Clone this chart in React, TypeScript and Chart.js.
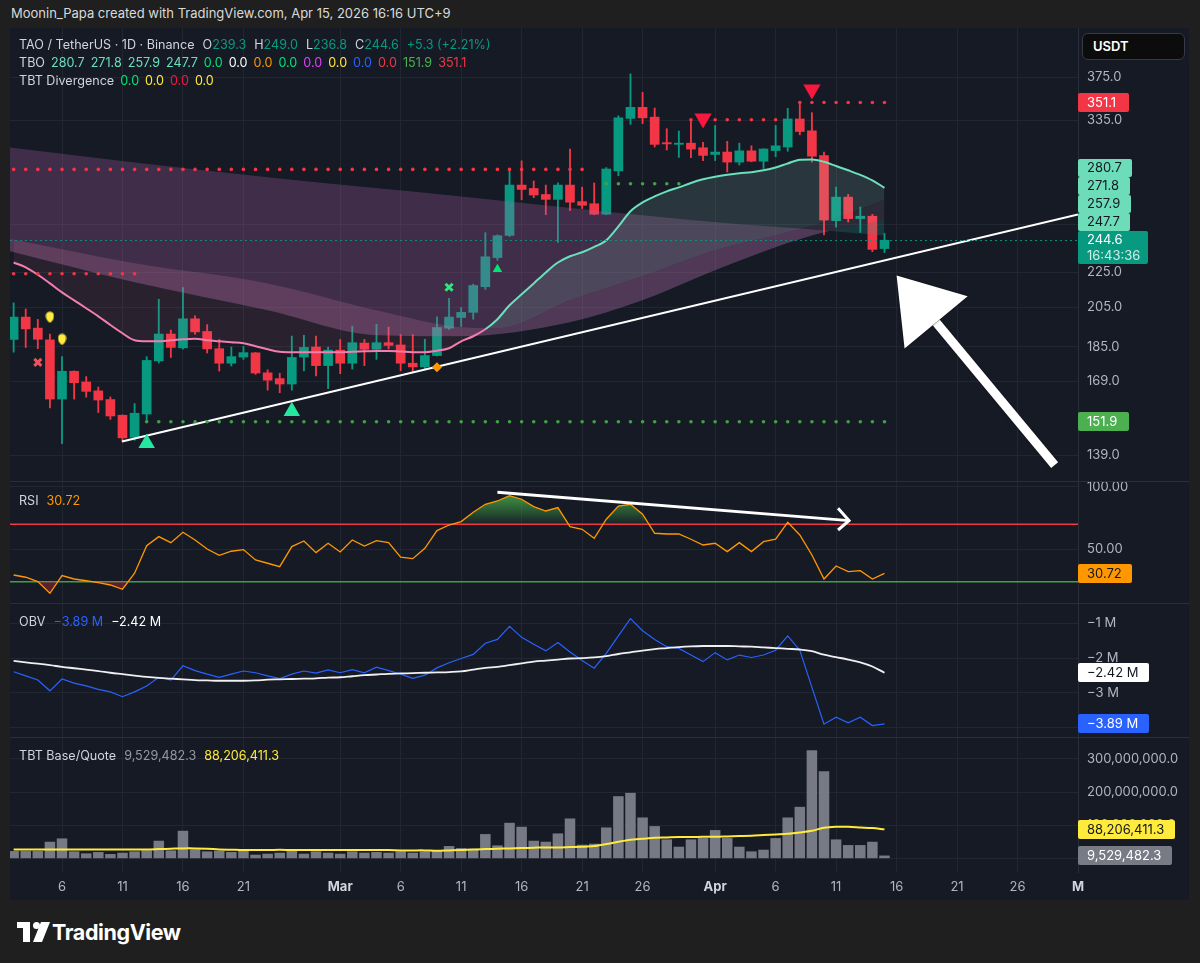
import React, { useEffect, useRef } from 'react';
import { Chart, registerables } from 'chart.js';

Chart.register(...registerables);

// ---------------- DATA ----------------
const SYMBOL = 'TAO / TetherUS · 1D · Binance';
const ATTRIBUTION = 'Moonin_Papa created with TradingView.com, Apr 15, 2026 16:16 UTC+9';
const TIMER = '16:43:36';

// x = day index, 0 = Feb 2
const X_TICKS = [4, 9, 14, 19, 27, 32, 37, 42, 47, 52, 58, 63, 68, 73, 78, 83, 88];
const X_TICK_LABELS = ['6', '11', '16', '21', 'Mar', '6', '11', '16', '21', '26', 'Apr', '6', '11', '16', '21', '26', 'M'];
const MONTH_LABELS = ['Mar', 'Apr', 'M'];

const OPEN = [188.5, 199.9, 194.2, 188.3, 161.2, 173.4, 168.6, 164.7, 161.0, 154.5,
  145.8, 155.0, 178.2, 191.2, 184.4, 199.0, 192.5, 184.0, 177.1, 180.0,
  182.0, 172.7, 170.1, 167.7, 180.0, 184.8, 176.0, 183.3, 177.1, 186.7,
  183.7, 186.9, 185.8, 177.1, 175.4, 180.7, 194.2, 199.7, 202.4, 216.5,
  233.7, 247.7, 282.7, 280.2, 275.8, 272.3, 282.7, 270.7, 269.2, 261.9,
  293.4, 336.8, 346.7, 337.9, 316.0, 314.6, 315.6, 311.8, 306.4, 308.3,
  300.3, 309.3, 301.0, 309.5, 312.4, 336.3, 326.0, 305.5, 257.5, 273.9,
  258.9, 260.5, 239.3];
const HIGH = [207.5, 204.2, 198.7, 191.2, 180.2, 173.6, 171.0, 166.4, 162.1, 154.6,
  159.3, 180.2, 209.5, 193.2, 216.0, 200.6, 196.0, 188.5, 184.8, 185.1,
  182.2, 174.1, 172.5, 190.2, 190.6, 190.2, 184.8, 188.5, 195.2, 188.5,
  196.2, 194.7, 190.9, 190.9, 188.6, 200.0, 210.0, 205.0, 218.0, 249.5,
  248.1, 294.6, 301.3, 285.8, 282.7, 284.3, 310.8, 281.2, 284.3, 296.0,
  339.1, 378.6, 360.6, 346.1, 327.8, 325.8, 335.5, 316.3, 330.6, 317.1,
  315.6, 313.4, 311.0, 330.6, 345.8, 352.2, 341.9, 308.3, 281.2, 275.9,
  266.9, 261.8, 249.0];
const LOW = [182.3, 184.6, 184.0, 157.5, 143.4, 161.2, 162.0, 155.6, 152.8, 144.1,
  144.7, 152.2, 177.2, 179.8, 183.8, 191.1, 181.9, 173.5, 175.8, 178.9,
  172.0, 165.0, 163.9, 165.0, 173.6, 171.3, 165.7, 172.3, 174.4, 176.0,
  178.9, 183.9, 173.6, 172.8, 174.3, 180.5, 193.5, 195.0, 198.8, 215.0,
  232.0, 247.0, 272.0, 273.5, 261.6, 243.2, 264.3, 265.8, 261.5, 261.5,
  289.7, 331.5, 332.2, 312.4, 310.0, 304.0, 303.8, 301.5, 301.5, 292.6,
  298.0, 300.5, 295.3, 304.6, 309.0, 322.6, 300.3, 248.1, 253.2, 256.6,
  249.6, 237.4, 236.8];
const CLOSE = [199.9, 193.8, 188.6, 161.2, 173.4, 168.3, 164.5, 160.8, 154.2, 145.6,
  155.3, 178.4, 191.2, 184.6, 199.0, 192.3, 183.9, 177.1, 180.2, 182.1,
  172.6, 169.4, 167.7, 179.8, 184.6, 176.0, 183.3, 177.1, 186.9, 183.7,
  186.9, 185.6, 177.1, 175.4, 180.7, 194.5, 199.9, 202.4, 217.2, 234.2,
  247.5, 282.7, 279.5, 275.4, 272.3, 282.7, 270.3, 268.1, 261.9, 294.9,
  337.3, 346.7, 337.3, 314.6, 315.0, 315.6, 310.7, 305.6, 308.3, 300.3,
  309.3, 301.0, 310.8, 313.4, 336.3, 325.4, 305.0, 257.9, 273.9, 258.9,
  260.5, 238.8, 244.6];

const TBO_FAST = [230.7, 227.8, 223.4, 218.4, 213.3, 208.9, 204.6, 200.3, 195.8, 191.6,
  188.1, 187.6, 187.6, 188.1, 188.6, 188.9, 188.1, 187.6, 187.1, 186.6,
  185.2, 183.7, 182.5, 182.3, 182.3, 182.3, 182.3, 182.3, 182.5, 182.7,
  182.9, 182.9, 182.6, 182.3, 182.3, 183.0, 184.2, 187.6, 190.1, 193.6,
  198.8, 206.2, 212.2, 218.4, 224.8, 230.7, 234.5, 237.0, 240.4, 244.5,
  253.6, 263.9, 270.1, 274.4, 278.1, 281.0, 284.3, 287.0, 288.9, 290.4,
  291.6, 292.4, 293.9, 296.1, 299.2, 302.2, 302.4, 300.5, 297.2, 293.9,
  290.4, 286.2, 280.7];
const TBO_BULL_FROM = 39;
const TBO_MED_IDX = [-0.3, 10, 21, 30, 37, 40, 46, 52, 58, 63, 67, 72];
const TBO_MED = [245.5, 230.2, 218.4, 203.5, 194.6, 194.1, 208.9, 222.5, 238.2, 247.8, 256.3, 271.8];
const TBO_SLOW_IDX = [-0.3, 10, 21, 30, 37, 46, 52, 58, 63, 67, 72];
const TBO_SLOW = [237.6, 219.0, 203.5, 190.6, 190.1, 197.2, 208.9, 226.0, 240.1, 249.7, 257.9];
const TBO_SLOWEST_IDX = [-0.3, 10, 21, 37, 52, 60, 67, 72];
const TBO_SLOWEST = [312.0, 300.0, 288.5, 274.4, 261.1, 255.0, 251.0, 247.7];

const SELL_LEVEL = 351.1;
const BUY_LEVEL = 151.9;
const RED_LEVELS = [
  { from: 0, to: 47, price: 294.6 },
  { from: 0, to: 10, price: 224.0 },
  { from: 56, to: 63, price: 335.6 },
  { from: 65, to: 72, price: SELL_LEVEL },
];
const GREEN_LEVELS = [
  { from: 11, to: 72, price: BUY_LEVEL },
  { from: 49, to: 55, price: 283.7 },
];

const TREND = [{ x: 8.96, y: 144.2 }, { x: 88, y: 261.7 }];
const ARROW_TAIL = [86.07, 135.5];
const ARROW_TIP = [73.0, 223.0];
const ARROW_WING_A = [73.66, 184.1];
const ARROW_WING_B = [78.88, 211.1];

const SIG_UP_BIG = [{ x: 11, y: 143.5 }, { x: 23, y: 156.1 }];
const SIG_UP_SMALL = [{ x: 40, y: 226.6 }];
const SIG_DOWN = [{ x: 57, y: 336.8 }, { x: 66, y: 363.4 }];
const SIG_X_RED = [{ x: 2, y: 177.5 }];
const SIG_X_GREEN = [{ x: 36, y: 216.2 }];
const SIG_DROP = [{ x: 3, y: 199.8 }, { x: 4, y: 188.5 }];
const SIG_DIAMOND = [{ x: 35, y: 175.2 }];

const MAIN_Y_TICKS = [375, 335, 255, 225, 205, 185, 169, 139];

const RSI = [29.4, 27.6, 24.1, 14.8, 28.9, 26.2, 24.8, 23.3, 21.4, 18.0,
  30.8, 52.9, 60.1, 55.3, 63.6, 57.4, 50.2, 45.2, 48.4, 49.7,
  41.4, 38.8, 36.1, 52.1, 56.6, 47.3, 54.8, 47.8, 57.4, 52.6,
  56.9, 55.3, 43.6, 42.5, 50.8, 64.9, 69.4, 72.1, 79.6, 86.0,
  88.6, 92.9, 90.0, 84.1, 80.6, 83.3, 68.1, 66.0, 58.8, 74.0,
  84.6, 86.0, 78.0, 62.8, 62.2, 62.2, 58.0, 53.4, 54.8, 48.1,
  55.3, 48.1, 56.1, 58.0, 71.6, 61.4, 45.4, 26.2, 36.6, 32.1,
  32.9, 26.2, 30.72];
const RSI_UPPER = 70;
const RSI_LOWER = 24;
const RSI_TICKS = [100, 50];
const RSI_ARROW = [{ x: 40, y: 95.6 }, { x: 69.07, y: 72.9 }];
const RSI_ARROW_HEAD = [{ x: 68.16, y: 82.8 }, { x: 69.07, y: 72.9 }, { x: 68.16, y: 65.4 }];

const OBV = [-2.39, -2.51, -2.63, -2.94, -2.60, -2.72, -2.80, -2.90, -2.97, -3.11,
  -2.97, -2.80, -2.55, -2.63, -2.22, -2.36, -2.46, -2.55, -2.46, -2.37,
  -2.42, -2.51, -2.59, -2.46, -2.37, -2.43, -2.34, -2.42, -2.33, -2.42,
  -2.26, -2.36, -2.46, -2.58, -2.49, -2.28, -2.13, -2.01, -1.89, -1.57,
  -1.46, -1.08, -1.40, -1.60, -1.79, -1.55, -1.82, -2.07, -2.29, -1.86,
  -1.36, -0.86, -1.21, -1.46, -1.67, -1.72, -1.91, -2.10, -1.84, -2.05,
  -1.91, -1.98, -1.91, -1.77, -1.36, -1.77, -2.84, -3.90, -3.70, -3.86,
  -3.70, -3.94, -3.89];
const OBV_MA = [-2.08, -2.12, -2.16, -2.20, -2.25, -2.29, -2.33, -2.37, -2.42, -2.46,
  -2.50, -2.54, -2.57, -2.59, -2.61, -2.63, -2.64, -2.65, -2.65, -2.65,
  -2.64, -2.62, -2.61, -2.60, -2.59, -2.58, -2.56, -2.55, -2.52, -2.49,
  -2.47, -2.45, -2.44, -2.43, -2.42, -2.41, -2.40, -2.38, -2.33, -2.28,
  -2.25, -2.20, -2.15, -2.10, -2.07, -2.04, -2.01, -2.00, -1.98, -1.94,
  -1.88, -1.83, -1.78, -1.74, -1.71, -1.68, -1.66, -1.65, -1.65, -1.65,
  -1.66, -1.67, -1.69, -1.71, -1.73, -1.75, -1.80, -1.90, -1.97, -2.04,
  -2.12, -2.24, -2.42];
const OBV_TICKS = [-1, -2, -3, -4];

// millions
const VOL = [23, 23, 23, 51, 61, 22, 16, 20, 14, 18,
  22, 25, 54, 25, 84, 28, 22, 24, 20, 28,
  12, 15, 18, 28, 15, 22, 18, 15, 22, 18,
  20, 18, 22, 18, 22, 24, 38, 32, 30, 74,
  40, 108, 96, 54, 51, 76, 121, 42, 45, 94,
  188, 198, 124, 98, 58, 36, 58, 62, 86, 62,
  36, 22, 27, 62, 124, 156, 326, 263, 58, 41,
  41, 51, 9.5294823];
const VOL_MA = [28, 28, 28, 28, 28, 28, 28, 28, 28, 28,
  28, 28, 29, 30, 31, 31, 30, 28, 27, 26,
  26, 26, 27, 26, 26, 26, 26, 26, 26, 26,
  26, 26, 25, 25, 25, 24, 25, 26, 28, 29,
  30, 31, 32, 33, 34, 34, 35, 36, 38, 44,
  51, 57, 60, 63, 64, 65, 65, 66, 66, 67,
  68, 69, 71, 73, 75, 79, 84, 93, 96, 96,
  94, 92, 88.2064113];
const VOL_TICKS = [0, 100, 200, 300];

// ---------------- STYLE ----------------
const FONT = 'Inter, "Noto Sans", "Liberation Sans", sans-serif';
const BG_OUTER = '#1f1f1f';
const BG_PANEL = '#161a25';
const GRID = '#222631';
const SEP = '#2a2e39';
const AXIS_TXT = '#b2b5be';
const LEG_TXT = '#d1d4dc';
const UP = '#089981';
const DOWN = '#f23645';
const PINK = '#f27eb0';
const MINT = '#6ce0bd';
const MINT_BOX = '#6cdcb9';

const X_MIN = -0.3;
const X_MAX = 88;
const AXIS_W = 111;

const last = (a: number[]) => a[a.length - 1];
const idxPts = (vals: number[]) => vals.map((v, i) => ({ x: i, y: v }));
const sparse = (idx: number[], vals: number[]) => idx.map((x, k) => ({ x, y: vals[k] }));
const levelPts = (levels: any[]) =>
  levels.flatMap((l) => {
    const pts: any[] = [];
    for (let i = l.from; i <= l.to; i++) pts.push({ x: i, y: l.price });
    return pts;
  });
const fmtM = (v: number) => '\u2212' + Math.abs(v).toFixed(2) + ' M';
const fmtVol = (v: number) =>
  (v * 1e6).toLocaleString('en-US', { minimumFractionDigits: 1, maximumFractionDigits: 1 });

function makeDrop(color: string) {
  const c = document.createElement('canvas');
  c.width = 9;
  c.height = 12;
  const g = c.getContext('2d')!;
  g.fillStyle = color;
  g.beginPath();
  g.arc(4.5, 4.5, 4, Math.PI, 0);
  g.quadraticCurveTo(8.5, 9, 4.5, 11.5);
  g.quadraticCurveTo(0.5, 9, 0.5, 4.5);
  g.fill();
  return c;
}

function drawBox(ctx: any, left: number, cy: number, text: string, bg: string, fg: string, minW = 0, h = 19) {
  ctx.font = `13px ${FONT}`;
  const w = Math.max(minW, Math.ceil(ctx.measureText(text).width) + 19);
  const top = Math.round(cy - h / 2);
  ctx.fillStyle = bg;
  ctx.beginPath();
  ctx.roundRect(left, top, w, h, 2);
  ctx.fill();
  ctx.fillStyle = fg;
  ctx.textAlign = 'left';
  ctx.textBaseline = 'middle';
  ctx.fillText(text, left + 9, top + h / 2 + 0.5);
}

function xScale(showLabels: boolean) {
  return {
    type: 'linear',
    min: X_MIN,
    max: X_MAX,
    bounds: 'data',
    offset: false,
    afterBuildTicks: (s: any) => {
      s.ticks = X_TICKS.map((v) => ({ value: v }));
    },
    afterFit: (s: any) => {
      s.height = showLabels ? 28 : 0;
      s.paddingLeft = 0;
      s.paddingRight = 0;
      s.paddingTop = 0;
      s.paddingBottom = 0;
    },
    grid: { color: GRID, drawTicks: false, offset: false },
    border: { display: false },
    ticks: {
      display: showLabels,
      autoSkip: false,
      maxRotation: 0,
      padding: 7,
      callback: (_v: any, i: number) => X_TICK_LABELS[i],
      color: (c: any) => (MONTH_LABELS.includes(X_TICK_LABELS[c.index]) ? LEG_TXT : AXIS_TXT),
      font: (c: any) => ({ size: 13, family: FONT, weight: MONTH_LABELS.includes(X_TICK_LABELS[c.index]) ? 'bold' : 'normal' }),
    },
  };
}

function yScale(extra: any, ticks: number[], fmt: (v: number) => string) {
  return {
    position: 'right',
    bounds: 'data',
    offset: false,
    ...extra,
    afterBuildTicks: (s: any) => {
      s.ticks = ticks.map((v) => ({ value: v }));
    },
    afterFit: (s: any) => {
      s.width = AXIS_W;
      s.paddingTop = 0;
      s.paddingBottom = 0;
      s.paddingLeft = 0;
      s.paddingRight = 0;
    },
    grid: { color: GRID, drawTicks: false },
    border: { display: true, color: SEP },
    ticks: { padding: 9, color: AXIS_TXT, autoSkip: false, font: { size: 13, family: FONT }, callback: (v: any) => fmt(Number(v)) },
  };
}

function baseOptions(x: any, y: any) {
  return {
    animation: false,
    responsive: false,
    devicePixelRatio: 1,
    events: [],
    layout: { padding: 0, autoPadding: false },
    plugins: { legend: { display: false }, tooltip: { enabled: false } },
    scales: { x, y },
  };
}

const lineDs = (data: any[], color: string, width: number, order: number, extra: any = {}) => ({
  type: 'line',
  data,
  borderColor: color,
  borderWidth: width,
  pointRadius: 0,
  fill: false,
  order,
  ...extra,
});

const markerDs = (data: any[], style: any, radius: number, color: string, extra: any = {}) => ({
  type: 'line',
  data,
  showLine: false,
  pointStyle: style,
  pointRadius: radius,
  pointBackgroundColor: color,
  pointBorderColor: color,
  pointBorderWidth: 0,
  order: 1,
  ...extra,
});

function mainConfig(): any {
  const colors = OPEN.map((o, i) => (CLOSE[i] >= o ? UP : DOWN));
  const datasets: any[] = [
    // 0 slowest line
    lineDs(sparse(TBO_SLOWEST_IDX, TBO_SLOWEST), 'transparent', 0, 10, {
      cubicInterpolationMode: 'monotone',
      fill: { target: 1, above: 'rgba(176,100,170,0.27)', below: 'rgba(38,166,154,0.22)' },
    }),
    // 1 slow line
    lineDs(sparse(TBO_SLOW_IDX, TBO_SLOW), 'transparent', 0, 10, { cubicInterpolationMode: 'monotone' }),
    // 2 medium line
    lineDs(sparse(TBO_MED_IDX, TBO_MED), 'transparent', 0, 10, {
      cubicInterpolationMode: 'monotone',
      fill: { target: 1, above: 'rgba(215,185,220,0.11)', below: 'rgba(215,185,220,0.11)' },
    }),
    // 3 fast line
    lineDs(idxPts(TBO_FAST), PINK, 2, 9, {
      cubicInterpolationMode: 'monotone',
      segment: { borderColor: (c: any) => (c.p0DataIndex >= TBO_BULL_FROM ? MINT : PINK) },
      fill: { target: 2, above: 'rgba(150,205,190,0.16)', below: 'rgba(240,110,160,0.09)' },
    }),
    // 4 trend line
    lineDs(TREND, '#ffffff', 2, 8),
    // candles: wicks & bodies
    {
      type: 'bar',
      data: OPEN.map((_o, i) => ({ x: i, y: [LOW[i], HIGH[i]] })),
      backgroundColor: colors,
      grouped: false,
      maxBarThickness: 1.2,
      categoryPercentage: 1,
      barPercentage: 1,
      order: 21,
    },
    {
      type: 'bar',
      data: OPEN.map((o, i) => ({ x: i, y: [o, CLOSE[i]] })),
      backgroundColor: colors,
      grouped: false,
      maxBarThickness: 9,
      categoryPercentage: 1,
      barPercentage: 1,
      order: 20,
    },
    markerDs(levelPts(RED_LEVELS), 'circle', 1.8, '#f23645', { order: 7 }),
    markerDs(levelPts(GREEN_LEVELS), 'circle', 1.8, '#43a047', { order: 7 }),
    markerDs(SIG_UP_BIG, 'triangle', 9.5, '#26e7a0'),
    markerDs(SIG_UP_SMALL, 'triangle', 5.5, '#00e676'),
    markerDs(SIG_DOWN, 'triangle', 10, '#f7173f', { pointRotation: 180 }),
    markerDs(SIG_X_RED, 'crossRot', 5, '#f0515c', { pointBorderWidth: 3 }),
    markerDs(SIG_X_GREEN, 'crossRot', 5, '#2ee67a', { pointBorderWidth: 3 }),
    markerDs(SIG_DROP, makeDrop('#ffeb3b'), 5, '#ffeb3b'),
    markerDs(SIG_DIAMOND, 'rectRot', 5, '#ff9800'),
  ];

  const overlay = {
    id: 'mainOverlay',
    afterDatasetsDraw(chart: any) {
      const { ctx, chartArea, scales } = chart;
      const x = scales.x;
      const y = scales.y;
      ctx.save();
      ctx.beginPath();
      ctx.rect(chartArea.left, chartArea.top, chartArea.width, chartArea.height);
      ctx.clip();
      const py = Math.round(y.getPixelForValue(last(CLOSE))) + 0.5;
      ctx.setLineDash([2, 3]);
      ctx.strokeStyle = 'rgba(8,153,129,0.9)';
      ctx.lineWidth = 1;
      ctx.beginPath();
      ctx.moveTo(chartArea.left, py);
      ctx.lineTo(chartArea.right, py);
      ctx.stroke();
      ctx.setLineDash([]);
      const P = (p: number[]) => [x.getPixelForValue(p[0]), y.getPixelForValue(p[1])];
      const tail = P(ARROW_TAIL);
      const tip = P(ARROW_TIP);
      const wa = P(ARROW_WING_A);
      const wb = P(ARROW_WING_B);
      const mid = [(wa[0] + wb[0]) / 2, (wa[1] + wb[1]) / 2];
      ctx.shadowColor = 'rgba(0,0,0,0.6)';
      ctx.shadowBlur = 2;
      ctx.strokeStyle = '#ffffff';
      ctx.fillStyle = '#ffffff';
      ctx.lineWidth = 9;
      ctx.lineCap = 'butt';
      ctx.beginPath();
      ctx.moveTo(tail[0], tail[1]);
      ctx.lineTo(mid[0], mid[1]);
      ctx.stroke();
      ctx.beginPath();
      ctx.moveTo(tip[0], tip[1]);
      ctx.lineTo(wa[0], wa[1]);
      ctx.lineTo(wb[0], wb[1]);
      ctx.closePath();
      ctx.fill();
      ctx.restore();
    },
    afterDraw(chart: any) {
      const { ctx, chartArea, scales } = chart;
      const y = scales.y;
      const left = chartArea.right;
      ctx.save();
      drawBox(ctx, left, y.getPixelForValue(SELL_LEVEL), SELL_LEVEL.toFixed(1), '#f23645', '#ffffff', 51);
      drawBox(ctx, left, y.getPixelForValue(BUY_LEVEL), BUY_LEVEL.toFixed(1), '#4caf50', '#ffffff', 51);
      const py = y.getPixelForValue(last(CLOSE));
      const curTop = Math.round(py - 9.5);
      const vals = [last(TBO_SLOWEST), last(TBO_SLOW), last(TBO_MED), last(TBO_FAST)].sort((a, b) => a - b);
      let limit = curTop;
      for (const v of vals) {
        const cy = Math.min(y.getPixelForValue(v), limit - 9);
        drawBox(ctx, left, cy, v.toFixed(1), MINT_BOX, '#131722', 51, 18);
        limit = cy - 9;
      }
      ctx.fillStyle = UP;
      ctx.beginPath();
      ctx.roundRect(left, curTop, 70, 33, 2);
      ctx.fill();
      ctx.font = `13px ${FONT}`;
      ctx.textAlign = 'left';
      ctx.textBaseline = 'middle';
      ctx.fillStyle = '#ffffff';
      ctx.fillText(last(CLOSE).toFixed(1), left + 9, curTop + 9.5);
      ctx.fillStyle = 'rgba(255,255,255,0.82)';
      ctx.fillText(TIMER, left + 9, curTop + 25);
      ctx.restore();
    },
  };

  return {
    type: 'line',
    data: { datasets },
    options: baseOptions(
      xScale(false),
      yScale({ type: 'logarithmic', min: 130, max: 427 }, MAIN_Y_TICKS, (v) => v.toFixed(1)),
    ),
    plugins: [overlay],
  };
}

function rsiConfig(): any {
  const datasets: any[] = [
    lineDs(idxPts(RSI), '#ff9800', 1.3, 2, {
      fill: { target: { value: RSI_UPPER }, above: 'rgba(67,160,71,0.5)', below: 'rgba(0,0,0,0)' },
    }),
    lineDs(idxPts(RSI), 'transparent', 0, 3, {
      fill: { target: { value: RSI_LOWER }, above: 'rgba(0,0,0,0)', below: 'rgba(200,40,60,0.38)' },
    }),
    lineDs([{ x: X_MIN, y: RSI_UPPER }, { x: X_MAX, y: RSI_UPPER }], '#f23645', 1.5, 4),
    lineDs([{ x: X_MIN, y: RSI_LOWER }, { x: X_MAX, y: RSI_LOWER }], '#43a047', 1.5, 4),
    lineDs(RSI_ARROW, '#ffffff', 3, 0),
    lineDs(RSI_ARROW_HEAD, '#ffffff', 3, 0, { borderJoinStyle: 'miter' }),
  ];
  const overlay = {
    id: 'rsiOverlay',
    afterDraw(chart: any) {
      const { ctx, chartArea, scales } = chart;
      ctx.save();
      drawBox(ctx, chartArea.right, scales.y.getPixelForValue(last(RSI)), last(RSI).toFixed(2), '#ff9800', '#131722', 51);
      ctx.restore();
    },
  };
  return {
    type: 'line',
    data: { datasets },
    options: baseOptions(xScale(false), yScale({ type: 'linear', min: 7, max: 103.8 }, RSI_TICKS, (v) => v.toFixed(2))),
    plugins: [overlay],
  };
}

function obvConfig(): any {
  const datasets: any[] = [
    lineDs(idxPts(OBV_MA), '#f0f0f0', 1.8, 2, { tension: 0.4 }),
    lineDs(idxPts(OBV), '#2962ff', 1.2, 3),
  ];
  const overlay = {
    id: 'obvOverlay',
    afterDraw(chart: any) {
      const { ctx, chartArea, scales } = chart;
      ctx.save();
      drawBox(ctx, chartArea.right, scales.y.getPixelForValue(last(OBV_MA)), fmtM(last(OBV_MA)), '#ffffff', '#131722');
      drawBox(ctx, chartArea.right, scales.y.getPixelForValue(last(OBV)), fmtM(last(OBV)), '#2962ff', '#ffffff');
      ctx.restore();
    },
  };
  return {
    type: 'line',
    data: { datasets },
    options: baseOptions(
      xScale(false),
      yScale({ type: 'linear', min: -4.27, max: -0.44 }, OBV_TICKS, (v) => '\u2212' + Math.abs(v) + ' M'),
    ),
    plugins: [overlay],
  };
}

function volConfig(): any {
  const datasets: any[] = [
    lineDs(idxPts(VOL_MA), '#ffeb3b', 2, 1, { tension: 0.3 }),
    {
      type: 'bar',
      data: idxPts(VOL),
      backgroundColor: 'rgba(124,127,138,0.95)',
      categoryPercentage: 1,
      barPercentage: 0.87,
      order: 5,
    },
  ];
  const overlay = {
    id: 'volOverlay',
    afterDraw(chart: any) {
      const { ctx, chartArea, scales } = chart;
      ctx.save();
      drawBox(ctx, chartArea.right, scales.y.getPixelForValue(last(VOL_MA)), fmtVol(last(VOL_MA)), '#ffeb3b', '#131722');
      drawBox(ctx, chartArea.right, scales.y.getPixelForValue(last(VOL)), fmtVol(last(VOL)), '#787b86', '#ffffff');
      ctx.restore();
    },
  };
  return {
    type: 'line',
    data: { datasets },
    options: baseOptions(xScale(true), yScale({ type: 'linear', min: -40, max: 363 }, VOL_TICKS, (v) => fmtVol(v))),
    plugins: [overlay],
  };
}

const Row = ({ top, children, gap = 8 }: any) => (
  <div
    style={{
      position: 'absolute',
      left: 19,
      top,
      height: 18,
      lineHeight: '18px',
      fontSize: 12.6,
      whiteSpace: 'nowrap',
      display: 'flex',
      gap,
      fontFamily: FONT,
      color: LEG_TXT,
    }}
  >
    {children}
  </div>
);

const C = ({ c, children }: any) => <span style={{ color: c }}>{children}</span>;

export default function App() {
  const mainRef = useRef<HTMLCanvasElement>(null);
  const rsiRef = useRef<HTMLCanvasElement>(null);
  const obvRef = useRef<HTMLCanvasElement>(null);
  const volRef = useRef<HTMLCanvasElement>(null);

  useEffect(() => {
    Chart.defaults.font.family = FONT;
    Chart.defaults.font.size = 13;
    Chart.defaults.color = AXIS_TXT;
    const charts: any[] = [];
    charts.push(new Chart(mainRef.current as any, mainConfig()));
    const rsi = new Chart(rsiRef.current as any, rsiConfig());
    const ys = rsi.scales.y;
    const grad = rsi.ctx.createLinearGradient(0, ys.getPixelForValue(93), 0, ys.getPixelForValue(RSI_UPPER));
    grad.addColorStop(0, 'rgba(67,160,71,0.9)');
    grad.addColorStop(1, 'rgba(67,160,71,0.06)');
    (rsi.data.datasets[0] as any).fill = { target: { value: RSI_UPPER }, above: grad, below: 'rgba(0,0,0,0)' };
    rsi.update('none');
    charts.push(rsi);
    charts.push(new Chart(obvRef.current as any, obvConfig()));
    charts.push(new Chart(volRef.current as any, volConfig()));
    return () => charts.forEach((c) => c.destroy());
  }, []);

  const o = last(OPEN);
  const h = last(HIGH);
  const l = last(LOW);
  const c = last(CLOSE);
  const chg = c - o;
  const pct = (chg / o) * 100;
  const canvasStyle = (top: number, height: number): any => ({ position: 'absolute', left: 10, top, width: 1179, height });

  return (
    <div style={{ position: 'fixed', left: 0, top: 0, width: 1200, height: 963, background: BG_OUTER, overflow: 'hidden', fontFamily: FONT }}>
      <div style={{ position: 'absolute', left: 11, top: 4, fontSize: 13, lineHeight: '18px', color: '#dadada', whiteSpace: 'nowrap' }}>{ATTRIBUTION}</div>
      <div style={{ position: 'absolute', left: 10, top: 28, width: 1179, height: 872, background: BG_PANEL }} />
      <canvas ref={mainRef} width={1179} height={453} style={canvasStyle(28, 453)} />
      <canvas ref={rsiRef} width={1179} height={121} style={canvasStyle(482, 121)} />
      <canvas ref={obvRef} width={1179} height={133} style={canvasStyle(604, 133)} />
      <canvas ref={volRef} width={1179} height={162} style={canvasStyle(738, 162)} />
      {[481, 603, 737].map((t) => (
        <div key={t} style={{ position: 'absolute', left: 10, top: t, width: 1179, height: 1, background: SEP }} />
      ))}

      <Row top={36}>
        <C c={LEG_TXT}>{SYMBOL}</C>
        <span><C c={LEG_TXT}>O</C><C c={UP}>{o.toFixed(1)}</C></span>
        <span><C c={LEG_TXT}>H</C><C c={UP}>{h.toFixed(1)}</C></span>
        <span><C c={LEG_TXT}>L</C><C c={UP}>{l.toFixed(1)}</C></span>
        <span><C c={LEG_TXT}>C</C><C c={UP}>{c.toFixed(1)}</C></span>
        <C c={UP}>{`+${chg.toFixed(1)} (+${pct.toFixed(2)}%)`}</C>
      </Row>
      <Row top={54} gap={6}>
        <C c={LEG_TXT}>TBO</C>
        <C c={MINT}>{last(TBO_FAST).toFixed(1)}</C>
        <C c={MINT}>{last(TBO_MED).toFixed(1)}</C>
        <C c={MINT}>{last(TBO_SLOW).toFixed(1)}</C>
        <C c={MINT}>{last(TBO_SLOWEST).toFixed(1)}</C>
        <C c="#00e676">0.0</C>
        <C c="#ffffff">0.0</C>
        <C c="#ff9800">0.0</C>
        <C c="#00e676">0.0</C>
        <C c="#e040fb">0.0</C>
        <C c="#ffeb3b">0.0</C>
        <C c="#2962ff">0.0</C>
        <C c="#f23645">0.0</C>
        <C c="#4caf50">{BUY_LEVEL.toFixed(1)}</C>
        <C c="#f23645">{SELL_LEVEL.toFixed(1)}</C>
      </Row>
      <Row top={72} gap={6}>
        <C c={LEG_TXT}>TBT Divergence</C>
        <C c="#00e676">0.0</C>
        <C c="#ffeb3b">0.0</C>
        <C c="#f7173f">0.0</C>
        <C c="#ffeb3b">0.0</C>
      </Row>
      <Row top={492}>
        <C c={LEG_TXT}>RSI</C>
        <C c="#ff9800">{last(RSI).toFixed(2)}</C>
      </Row>
      <Row top={613}>
        <C c={LEG_TXT}>OBV</C>
        <C c="#2962ff">{fmtM(last(OBV))}</C>
        <C c="#ffffff">{fmtM(last(OBV_MA))}</C>
      </Row>
      <Row top={747}>
        <C c={LEG_TXT}>TBT Base/Quote</C>
        <C c="#9598a1">{fmtVol(last(VOL))}</C>
        <C c="#ffeb3b">{fmtVol(last(VOL_MA))}</C>
      </Row>

      <div
        style={{
          position: 'absolute', left: 1082, top: 33, width: 91, height: 25, background: '#0c0c0c',
          border: '1px solid #363a45', borderRadius: 6, color: '#ffffff', fontSize: 13, fontWeight: 600,
          lineHeight: '25px', paddingLeft: 10, boxSizing: 'content-box',
        }}
      >
        USDT
      </div>

      <svg style={{ position: 'absolute', left: 17, top: 922 }} width={33} height={20} viewBox="0 0 33 20">
        <rect x={0} y={0} width={13} height={6} fill="#ffffff" />
        <rect x={6} y={0} width={7} height={20} fill="#ffffff" />
        <circle cx={19.5} cy={3.5} r={3.5} fill="#ffffff" />
        <polygon points="24,0 33,0 25,20 16,20" fill="#ffffff" />
      </svg>
      <div style={{ position: 'absolute', left: 52, top: 917, fontSize: 21.5, fontWeight: 700, color: '#ffffff', letterSpacing: -0.4, lineHeight: '30px' }}>
        TradingView
      </div>
    </div>
  );
}
